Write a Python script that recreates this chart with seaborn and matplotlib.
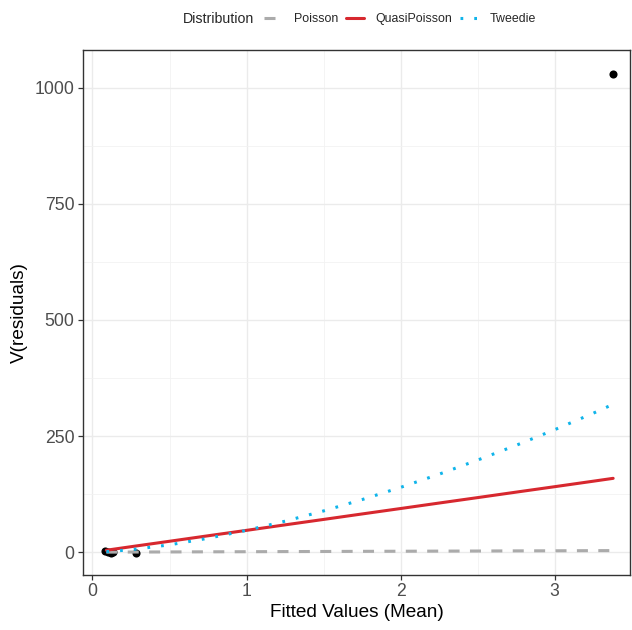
import matplotlib
matplotlib.use("Agg")
import matplotlib.pyplot as plt
import seaborn as sns
import pandas as pd
from matplotlib.lines import Line2D

# ---- data ----
mu_grid = [0.09, 0.25, 0.5, 0.75, 1.0, 1.25, 1.5, 1.75, 2.0, 2.25, 2.5, 2.75, 3.0, 3.25, 3.38]
v_poisson = [0.1, 0.3, 0.5, 0.8, 1.0, 1.3, 1.5, 1.8, 2.0, 2.3, 2.5, 2.8, 3.0, 3.3, 3.4]
v_quasi = [4.2, 11.8, 23.5, 35.3, 47.0, 58.8, 70.5, 82.3, 94.0, 105.8, 117.5, 129.3, 141.0, 152.8, 159.0]
v_tweedie = [1.1, 5.3, 15.8, 29.9, 47.0, 66.7, 88.8, 113.2, 139.5, 167.9, 198.3, 230.1, 263.7, 299.1, 318.5]

obs_mu = [0.08, 0.10, 0.12, 0.13, 0.28, 3.38]
obs_v = [3, 1, -2, 0, -1, 1029]

distributions = ["Poisson", "QuasiPoisson", "Tweedie"]
x_ticks = [0, 1, 2, 3]
y_ticks = [0, 250, 500, 750, 1000]

# ---- build tables ----
lines_df = pd.DataFrame({
    "mu": mu_grid * 3,
    "V": v_poisson + v_quasi + v_tweedie,
    "Distribution": [distributions[0]] * len(mu_grid)
                    + [distributions[1]] * len(mu_grid)
                    + [distributions[2]] * len(mu_grid),
})
pts_df = pd.DataFrame({"mu": obs_mu, "V": obs_v})

sns.set_theme(style="white")
plt.rcParams["font.family"] = ["Liberation Sans", "DejaVu Sans"]

palette = {"Poisson": "#ABABAB", "QuasiPoisson": "#D7282F", "Tweedie": "#10B4EA"}
dashes = {"Poisson": (3.6, 3.4), "QuasiPoisson": "", "Tweedie": (0.9, 3.6)}

fig = plt.figure(figsize=(6.32, 6.30), dpi=100)
ax = fig.add_axes([0.131, 0.088, 0.866, 0.832])

sns.scatterplot(data=pts_df, x="mu", y="V", color="black", s=34, linewidth=0,
                ax=ax, zorder=3)
sns.lineplot(data=lines_df, x="mu", y="V", hue="Distribution", style="Distribution",
             palette=palette, dashes=dashes, linewidth=2.2, ax=ax, legend=False,
             zorder=4)

ax.set_xlim(-0.063, 3.49)
ax.set_ylim(-48.2, 1080.5)
ax.set_xticks(x_ticks)
ax.set_yticks(y_ticks)
ax.set_xticks([0.5, 1.5, 2.5], minor=True)
ax.set_yticks([125, 375, 625, 875], minor=True)
ax.grid(True, which="major", color="#EBEBEB", linewidth=1.0, zorder=0)
ax.grid(True, which="minor", color="#F2F2F2", linewidth=0.6, zorder=0)
ax.set_axisbelow(True)
for s in ax.spines.values():
    s.set_color("#333333")
    s.set_linewidth(1.0)
ax.tick_params(axis="both", which="major", direction="out", length=3.5, width=0.9,
               color="#333333", labelsize=12.7, labelcolor="#4D4D4D", pad=2.5,
               bottom=True, left=True)
ax.tick_params(axis="both", which="minor", length=0)
ax.set_xlabel("Fitted Values (Mean)", fontsize=13.7, color="black", labelpad=3)
ax.set_ylabel("V(residuals)", fontsize=13.7, color="black", labelpad=5)

# legend on top
handles = [Line2D([0], [0], color=palette[d], lw=2.2,
                  linestyle=(0, dashes[d]) if dashes[d] else "-") for d in distributions]
fig.text(183 / 632, 1 - 19 / 630, "Distribution", fontsize=10.2, ha="left", va="center")
fig.legend(handles, distributions, loc="center left",
           bbox_to_anchor=(264 / 632, 1 - 19 / 630), ncol=3, frameon=False,
           fontsize=8.9, handlelength=1.5, handletextpad=0.9, columnspacing=0.62,
           borderpad=0, borderaxespad=0)

fig.savefig("out.png", dpi=100)
